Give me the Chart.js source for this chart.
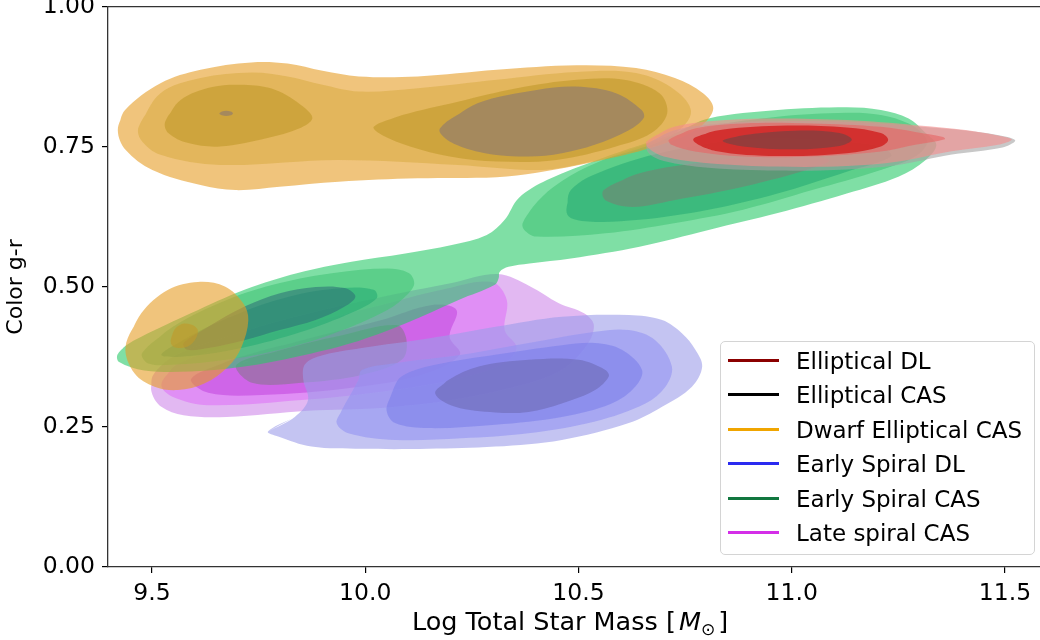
<!DOCTYPE html>
<html>
<head>
<meta charset="utf-8">
<script src="https://cdn.jsdelivr.net/npm/chart.js@4.4.1/dist/chart.umd.min.js"></script>
<style>
  body { margin: 0; background: #fff; }
  #wrap { position: relative; width: 1040px; height: 640px; font-family: "DejaVu Sans", sans-serif; }
  #xtitle { position: absolute; top: 609px; left: 570px; transform: translateX(-50%); font-size: 25.5px; line-height: 25px; white-space: nowrap; color: #000; }
  #xtitle i { margin-left: 3px; }
  #xtitle sub { font-size: 17px; vertical-align: -5px; line-height: 0; margin-right: 3px; }
  #legend { position: absolute; left: 720px; top: 341px; width: 313px; height: 212px; border: 1px solid #d4d4d4; border-radius: 5px; background: rgba(255,255,255,0.8); }
  .row { position: absolute; left: 0; height: 24px; line-height: 24px; font-size: 23px; color: #000; white-space: nowrap; }
  .row span.ln { position: absolute; left: 7px; top: 10px; width: 51px; height: 3px; }
  .row span.tx { position: absolute; left: 75px; top: 0; }
</style>
</head>
<body>
<div id="wrap">
  <canvas id="kde" width="1040" height="640"></canvas>
  <div id="xtitle">Log Total Star Mass [<i>M</i><sub>⊙</sub>]</div>
  <div id="legend"></div>
</div>
<script>
// tick values
const xTicks = [9.5, 10.0, 10.5, 11.0, 11.5];
const yTicks = [0, 0.25, 0.5, 0.75, 1.0];

// legend entries
const legendNames = ["Elliptical DL", "Elliptical CAS", "Dwarf Elliptical CAS", "Early Spiral DL", "Early Spiral CAS", "Late spiral CAS"];
const legendColors = ["#8b0000", "#000000", "#f0a500", "#2a2af0", "#11773f", "#d42ee8"];

// contour outlines, [log mass, g-r]
// Late spiral CAS
const lateCas1 = [[9.499,0.313],[9.503,0.343],[9.557,0.379],[9.686,0.414],[9.851,0.450],[10.038,0.482],[10.203,0.507],[10.311,0.523],[10.387,0.501],[10.454,0.471],[10.513,0.453],[10.536,0.432],[10.520,0.396],[10.461,0.352],[10.367,0.325],[10.203,0.298],[10.038,0.284],[9.867,0.279],[9.675,0.268],[9.574,0.271],[9.522,0.286]];
const lateCas2 = [[9.522,0.326],[9.557,0.361],[9.686,0.396],[9.851,0.432],[10.038,0.468],[10.179,0.495],[10.297,0.509],[10.332,0.477],[10.327,0.423],[10.355,0.391],[10.320,0.361],[10.203,0.334],[10.038,0.313],[9.851,0.298],[9.632,0.289],[9.548,0.304]];
const lateCas3 = [[9.592,0.336],[9.686,0.370],[9.851,0.405],[10.038,0.441],[10.156,0.468],[10.214,0.459],[10.198,0.411],[10.222,0.379],[10.132,0.343],[9.968,0.320],[9.757,0.307],[9.632,0.311]];
const lateCas4 = [[9.698,0.361],[9.804,0.388],[9.945,0.414],[10.074,0.432],[10.097,0.405],[10.086,0.370],[9.992,0.343],[9.851,0.329],[9.734,0.329]];

// Early Spiral CAS
const earlyCas1 = [[9.419,0.379],[9.440,0.396],[9.507,0.423],[9.591,0.453],[9.717,0.495],[9.842,0.525],[9.968,0.545],[10.094,0.560],[10.203,0.575],[10.285,0.593],[10.327,0.620],[10.360,0.659],[10.426,0.691],[10.555,0.730],[10.726,0.775],[10.805,0.801],[10.967,0.816],[11.129,0.821],[11.209,0.816],[11.274,0.801],[11.314,0.775],[11.339,0.754],[11.314,0.727],[11.250,0.697],[11.129,0.667],[10.967,0.632],[10.805,0.602],[10.643,0.572],[10.482,0.551],[10.385,0.542],[10.336,0.536],[10.315,0.527],[10.313,0.516],[10.304,0.504],[10.219,0.477],[10.094,0.435],[9.968,0.400],[9.842,0.376],[9.717,0.358],[9.591,0.349],[9.482,0.351],[9.423,0.366]];
const earlyCasLow2 = [[9.477,0.382],[9.549,0.429],[9.675,0.477],[9.800,0.507],[9.926,0.525],[10.052,0.533],[10.102,0.525],[10.115,0.507],[10.102,0.489],[10.052,0.459],[9.926,0.417],[9.800,0.388],[9.675,0.370],[9.549,0.361],[9.490,0.364]];
const earlyCasUp2 = [[10.369,0.614],[10.393,0.643],[10.442,0.679],[10.522,0.715],[10.643,0.751],[10.805,0.786],[10.967,0.804],[11.129,0.811],[11.209,0.807],[11.274,0.792],[11.306,0.775],[11.318,0.757],[11.290,0.733],[11.209,0.709],[11.048,0.673],[10.886,0.638],[10.724,0.614],[10.563,0.596],[10.401,0.590],[10.373,0.602]];
const earlyCasLow3 = [[9.522,0.379],[9.592,0.414],[9.710,0.455],[9.827,0.484],[9.945,0.498],[10.020,0.495],[10.027,0.480],[9.968,0.454],[9.851,0.420],[9.710,0.391],[9.592,0.377]];
const earlyCasUp3 = [[10.474,0.629],[10.482,0.673],[10.563,0.709],[10.724,0.745],[10.886,0.763],[11.048,0.763],[11.209,0.751],[11.233,0.733],[11.129,0.706],[10.967,0.667],[10.805,0.638],[10.643,0.620],[10.522,0.617]];
const earlyCasLow4 = [[9.574,0.400],[9.632,0.429],[9.717,0.465],[9.800,0.489],[9.884,0.500],[9.952,0.498],[9.977,0.483],[9.952,0.465],[9.884,0.441],[9.800,0.423],[9.717,0.405],[9.632,0.391],[9.582,0.388]];
const earlyCasUp4 = [[10.559,0.673],[10.643,0.703],[10.805,0.724],[10.977,0.736],[11.088,0.727],[11.048,0.712],[10.886,0.679],[10.724,0.655],[10.627,0.643],[10.563,0.655]];

// Early Spiral DL
const earlyDl1 = [[9.772,0.242],[9.835,0.268],[9.866,0.298],[9.855,0.334],[9.858,0.361],[9.890,0.376],[9.992,0.391],[10.148,0.408],[10.305,0.429],[10.461,0.447],[10.618,0.450],[10.696,0.441],[10.743,0.417],[10.774,0.388],[10.790,0.358],[10.766,0.322],[10.696,0.286],[10.618,0.257],[10.461,0.227],[10.305,0.215],[10.148,0.211],[9.992,0.211],[9.874,0.215],[9.796,0.233]];
const earlyDl2 = [[9.933,0.257],[9.945,0.280],[9.984,0.334],[9.992,0.352],[10.070,0.364],[10.226,0.379],[10.383,0.400],[10.539,0.420],[10.618,0.423],[10.680,0.405],[10.719,0.358],[10.704,0.322],[10.657,0.292],[10.539,0.260],[10.383,0.239],[10.226,0.230],[10.070,0.227],[9.960,0.239]];
const earlyDl3 = [[10.050,0.280],[10.062,0.310],[10.085,0.340],[10.164,0.361],[10.304,0.379],[10.461,0.396],[10.539,0.400],[10.602,0.388],[10.649,0.352],[10.633,0.322],[10.578,0.292],[10.461,0.268],[10.305,0.254],[10.148,0.248],[10.070,0.257]];
const earlyDl4 = [[10.164,0.310],[10.195,0.334],[10.266,0.358],[10.383,0.370],[10.500,0.370],[10.563,0.352],[10.571,0.340],[10.539,0.316],[10.461,0.292],[10.383,0.277],[10.305,0.276],[10.211,0.286]];

// Dwarf Elliptical CAS
const dwarf1 = [[9.420,0.780],[9.437,0.816],[9.520,0.864],[9.614,0.888],[9.733,0.901],[9.818,0.899],[9.900,0.886],[9.985,0.876],[10.123,0.876],[10.308,0.888],[10.495,0.896],[10.635,0.891],[10.726,0.873],[10.792,0.846],[10.816,0.819],[10.790,0.789],[10.726,0.763],[10.588,0.732],[10.402,0.704],[10.308,0.696],[10.123,0.694],[9.938,0.688],[9.799,0.679],[9.696,0.673],[9.614,0.682],[9.501,0.709],[9.438,0.745]];
const dwarf2 = [[9.469,0.786],[9.520,0.846],[9.614,0.873],[9.733,0.883],[9.818,0.876],[9.900,0.861],[9.985,0.849],[10.123,0.855],[10.308,0.870],[10.495,0.884],[10.635,0.882],[10.726,0.852],[10.764,0.813],[10.726,0.774],[10.635,0.745],[10.495,0.718],[10.402,0.709],[10.217,0.718],[9.938,0.727],[9.660,0.718],[9.520,0.736],[9.474,0.763]];
const dwarf3a = [[9.531,0.795],[9.567,0.834],[9.641,0.857],[9.715,0.861],[9.790,0.852],[9.855,0.822],[9.876,0.801],[9.845,0.783],[9.771,0.766],[9.660,0.751],[9.585,0.757],[9.538,0.775]];
const dwarf3b = [[10.020,0.786],[10.087,0.807],[10.217,0.831],[10.355,0.855],[10.495,0.870],[10.607,0.870],[10.690,0.846],[10.708,0.810],[10.671,0.775],[10.588,0.751],[10.449,0.727],[10.309,0.724],[10.198,0.733],[10.105,0.751],[10.040,0.771]];
const dwarf4 = [[10.175,0.783],[10.263,0.828],[10.402,0.852],[10.495,0.858],[10.588,0.846],[10.648,0.816],[10.653,0.802],[10.618,0.780],[10.538,0.754],[10.461,0.739],[10.384,0.733],[10.281,0.739],[10.198,0.760]];
const dwarfDot = [[9.658,0.810],[9.664,0.8135],[9.674,0.8148],[9.685,0.8135],[9.690,0.810],[9.685,0.8065],[9.674,0.8052],[9.664,0.8065]];
const dwarfLow1 = [[9.438,0.393],[9.475,0.453],[9.538,0.495],[9.608,0.509],[9.671,0.501],[9.714,0.471],[9.726,0.441],[9.710,0.393],[9.679,0.358],[9.624,0.328],[9.561,0.316],[9.506,0.322],[9.459,0.346]];
const dwarfLow2 = [[9.544,0.405],[9.553,0.424],[9.570,0.434],[9.592,0.433],[9.607,0.424],[9.603,0.408],[9.585,0.394],[9.562,0.391],[9.548,0.395]];

// Elliptical CAS
const ellCas1 = [[10.661,0.755],[10.724,0.780],[10.846,0.793],[10.967,0.796],[11.129,0.795],[11.290,0.787],[11.412,0.779],[11.506,0.768],[11.524,0.761],[11.494,0.749],[11.372,0.736],[11.250,0.718],[11.129,0.710],[10.967,0.708],[10.805,0.713],[10.700,0.725],[10.665,0.739]];

// Elliptical DL
const ellDl1 = [[10.660,0.760],[10.724,0.786],[10.846,0.798],[10.967,0.801],[11.129,0.798],[11.290,0.789],[11.412,0.780],[11.500,0.768],[11.516,0.763],[11.484,0.754],[11.371,0.742],[11.250,0.724],[11.129,0.716],[10.967,0.715],[10.805,0.721],[10.700,0.733],[10.664,0.748]];
const ellDl2 = [[10.712,0.763],[10.773,0.783],[10.886,0.792],[11.048,0.792],[11.209,0.786],[11.290,0.777],[11.355,0.768],[11.359,0.764],[11.290,0.754],[11.209,0.742],[11.048,0.733],[10.886,0.733],[10.773,0.742],[10.718,0.754]];
const ellDl3 = [[10.769,0.763],[10.821,0.779],[10.967,0.788],[11.129,0.785],[11.209,0.775],[11.226,0.763],[11.209,0.751],[11.129,0.739],[10.967,0.734],[10.821,0.743]];
const ellDl4 = [[10.838,0.761],[10.886,0.771],[11.007,0.779],[11.112,0.775],[11.141,0.763],[11.112,0.752],[11.007,0.746],[10.886,0.751]];

// fill colours per level (drawn nested, each at alpha .6)
const lateColors = ["rgba(207,137,233,0.6)", "rgba(223,117,247,0.6)", "rgba(197,74,223,0.6)", "rgba(138,117,147,0.6)"];
const greenColors = ["rgba(42,202,105,0.6)", "rgba(69,196,120,0.6)", "rgba(40,174,116,0.6)", "rgba(118,132,117,0.6)", "rgba(48,117,120,0.6)"];
const blueColors = ["rgba(157,157,233,0.6)", "rgba(149,149,242,0.6)", "rgba(125,128,235,0.6)", "rgba(110,107,181,0.6)"];
const orangeColors = ["rgba(230,157,37,0.6)", "rgba(218,174,72,0.6)", "rgba(194,153,41,0.6)", "rgba(139,120,115,0.6)"];
const grayColor = "rgba(163,163,163,0.6)";
const redColors = ["rgba(245,140,140,0.6)", "rgba(232,100,100,0.6)", "rgba(205,0,0,0.6)", "rgba(109,68,68,0.6)"];

// bottom to top
const layers = [
    [lateCas1, lateColors[0]], [lateCas2, lateColors[1]], [lateCas3, lateColors[2]], [lateCas4, lateColors[3]],
    [earlyCas1, greenColors[0]], [earlyCasLow2, greenColors[1]], [earlyCasUp2, greenColors[1]],
    [earlyCasLow3, greenColors[2]], [earlyCasUp3, greenColors[2]],
    [earlyCasLow4, greenColors[4]], [earlyCasUp4, greenColors[3]],
    [earlyDl1, blueColors[0]], [earlyDl2, blueColors[1]], [earlyDl3, blueColors[2]], [earlyDl4, blueColors[3]],
    [dwarf1, orangeColors[0]], [dwarf2, orangeColors[1]], [dwarf3a, orangeColors[2]], [dwarf3b, orangeColors[2]],
    [dwarf4, orangeColors[3]], [dwarfDot, orangeColors[3]],
    [dwarfLow1, orangeColors[0]], [dwarfLow2, orangeColors[2]],
    [ellCas1, grayColor],
    [ellDl1, redColors[0]], [ellDl2, redColors[1]], [ellDl3, redColors[2]], [ellDl4, redColors[3]]
];

const datasets = layers.map(([pts, color], i) => ({
    data: [...pts, pts[0], pts[1]].map(p => ({ x: p[0], y: p[1] })),
    backgroundColor: color,
    borderColor: "transparent",
    borderWidth: 0,
    pointRadius: 0,
    fill: "shape",
    tension: 0.35,
    order: layers.length - i
}));

const font = { family: "DejaVu Sans", size: 23.5 };

function noPad(scale) {
    scale.paddingLeft = 0;
    scale.paddingRight = 0;
    scale.paddingTop = 0;
    scale.paddingBottom = 0;
}

const ctx = document.getElementById("kde").getContext("2d");
const kdeChart = new Chart(ctx, {
    type: "line",
    data: { datasets: datasets },
    options: {
        responsive: false,
        animation: false,
        events: [],
        layout: { padding: { top: 7, left: 0, right: 0, bottom: 0 } },
        plugins: {
            legend: { display: false },
            tooltip: { enabled: false },
        },
        scales: {
            x: {
                type: "linear",
                min: 9.397,
                max: 11.582,
                afterBuildTicks: (scale) => { scale.ticks = xTicks.map(v => ({ value: v })); },
                afterFit: (scale) => { scale.height = 73; noPad(scale); },
                ticks: { font: font, color: "#000", padding: 7, maxRotation: 0, autoSkip: false,
                    callback: (v) => v.toFixed(1) },
                grid: { display: true, drawOnChartArea: false, drawTicks: true, tickLength: 6, color: "#000", lineWidth: 1.2 },
                border: { display: true, color: "#333", width: 1.3 },
            },
            x2: {
                type: "linear",
                position: "top",
                min: 9.397,
                max: 11.582,
                afterFit: (scale) => { scale.height = 0; noPad(scale); },
                ticks: { display: false },
                grid: { display: false },
                border: { display: true, color: "#333", width: 1.3 },
            },
            y: {
                type: "linear",
                min: 0,
                max: 1,
                afterBuildTicks: (scale) => { scale.ticks = yTicks.map(v => ({ value: v })); },
                afterFit: (scale) => { scale.width = 108; noPad(scale); },
                ticks: { font: font, color: "#000", padding: 7, autoSkip: false,
                    callback: (v) => v.toFixed(2) },
                grid: { display: true, drawOnChartArea: false, drawTicks: true, tickLength: 6, color: "#000", lineWidth: 1.2 },
                border: { display: true, color: "#333", width: 1.3 },
                title: { display: true, text: "Color g-r", color: "#000",
                    font: { family: "DejaVu Sans", size: 22 }, padding: { top: 3, bottom: 0 } },
            },
        },
    },
});

// legend box
const legendBox = document.getElementById("legend");
legendNames.forEach((name, i) => {
    const row = document.createElement("div");
    row.className = "row";
    row.style.top = (7 + i * 34.4) + "px";
    row.innerHTML = '<span class="ln" style="background:' + legendColors[i] + '"></span><span class="tx">' + name + "</span>";
    legendBox.appendChild(row);
});
</script>
</body>
</html>
